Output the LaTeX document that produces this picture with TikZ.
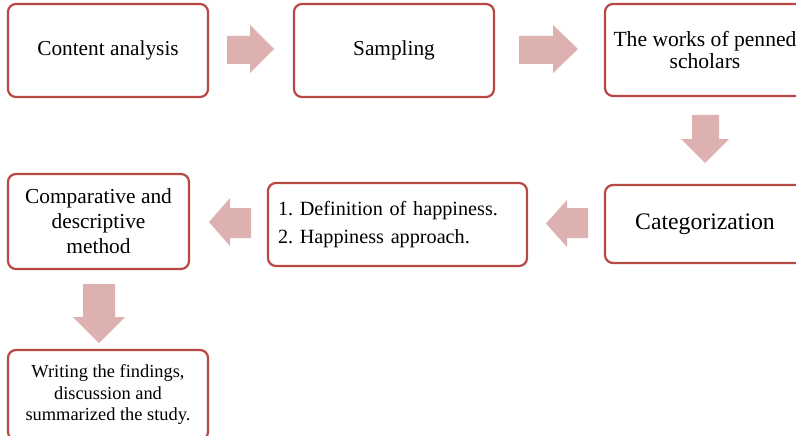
\documentclass[tikz,border=0pt]{standalone}
\usepackage{fontspec}
\setmainfont{Liberation Serif}

\definecolor{boxred}{RGB}{184,72,68}
\definecolor{arrowpink}{RGB}{221,177,176}

\tikzset{
  stepbox/.style={draw=boxred, line width=2.2pt, rounded corners=8pt, fill=white,
    align=center, inner sep=0pt},
  blockarrow/.style={fill=arrowpink, draw=none}
}

\begin{document}
\frenchspacing
\begin{tikzpicture}[x=1pt,y=-1pt]
			\clip (0,0) rectangle (796,436);
			\fill[white] (0,0) rectangle (796,436);
			%Boxes
			\node[stepbox, minimum width=200pt, minimum height=93pt, font=\fontsize{21.3}{25}\selectfont] (content) at (108,50.5) {Content analysis};
			\node[stepbox, minimum width=200pt, minimum height=93pt, font=\fontsize{21.3}{25}\selectfont] (sampling) at (394,50.5) {Sampling};
			\node[stepbox, minimum width=200pt, minimum height=92pt, font=\fontsize{21.6}{22}\selectfont] (works) at (705,50) {The works of penned\\scholars};
			\node[stepbox, minimum width=200pt, minimum height=78pt, font=\fontsize{23.7}{26}\selectfont] (categ) at (705,224) {Categorization};
			\node[stepbox, minimum width=259pt, minimum height=83pt, align=left, text width=239pt, font=\fontsize{20.2}{28}\selectfont] (defin) at (397.5,224.5) {1. Definition of happiness.\\2. Happiness approach.};
			\node[stepbox, minimum width=181pt, minimum height=95pt, font=\fontsize{21.4}{25}\selectfont] (compar) at (98.5,221.5) {Comparative and\\descriptive\\method};
			\node[stepbox, minimum width=200pt, minimum height=90pt, font=\fontsize{18.4}{21.5}\selectfont] (writing) at (108,395) {Writing the findings,\\discussion and\\summarized the study.};
			%Block arrows
			\path[blockarrow] (227,36) -- (250,36) -- (250,25) -- (274,49) -- (250,73) -- (250,64) -- (227,64) -- cycle;
			\path[blockarrow] (519,36) -- (553,36) -- (553,25) -- (578,49) -- (553,73) -- (553,64) -- (519,64) -- cycle;
			\path[blockarrow] (692,115) -- (719,115) -- (719,139) -- (729,139) -- (705,163) -- (681,139) -- (692,139) -- cycle;
			\path[blockarrow] (588,208) -- (567,208) -- (567,200) -- (546,223.5) -- (567,247) -- (567,238) -- (588,238) -- cycle;
			\path[blockarrow] (251,208) -- (230,208) -- (230,198) -- (209,222) -- (230,246) -- (230,238) -- (251,238) -- cycle;
			\path[blockarrow] (83,284) -- (115,284) -- (115,317) -- (125,317) -- (99,343) -- (73,317) -- (83,317) -- cycle;
		\end{tikzpicture}
\end{document}
